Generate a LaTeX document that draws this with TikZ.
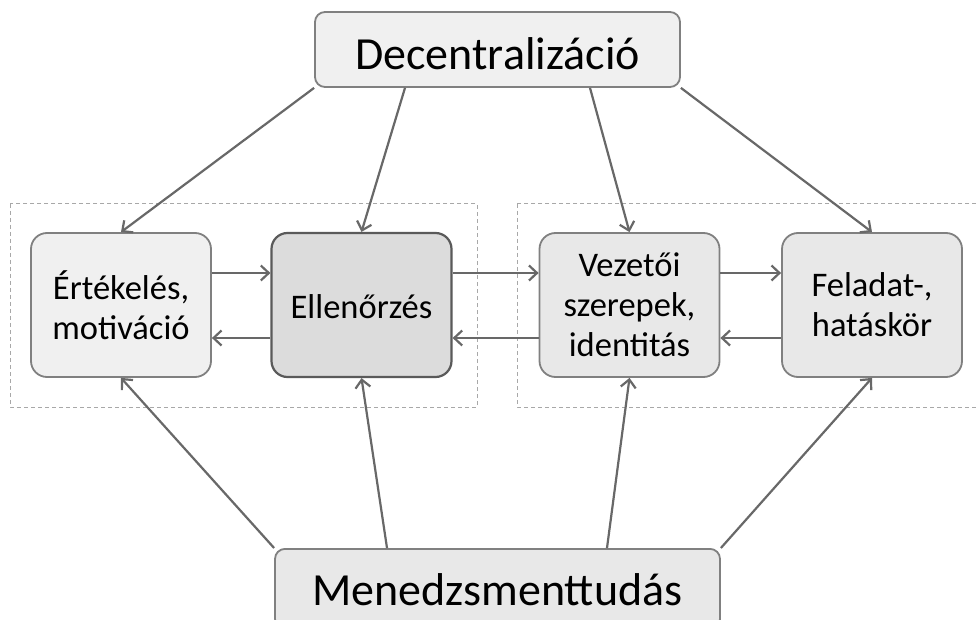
\documentclass[tikz,border=0pt]{standalone}
\usepackage{fontspec}
\setmainfont{Carlito}
\usetikzlibrary{arrows.meta,calc}
\definecolor{arrowgray}{HTML}{686868}
\definecolor{boxline}{HTML}{808080}
\definecolor{boxlinedark}{HTML}{5A5A5A}
\definecolor{fillA}{HTML}{F0F0F0}
\definecolor{fillB}{HTML}{DCDCDC}
\definecolor{fillC}{HTML}{E8E8E8}
\definecolor{dashgray}{HTML}{A8A8A8}
\tikzset{
  bigbox/.style={draw=boxline, line width=1.8pt, rounded corners=10pt, inner sep=0pt, align=center},
  smallbox/.style={draw=boxline, line width=1.8pt, rounded corners=16pt, minimum width=180pt, minimum height=144pt, inner sep=0pt, align=center, font=\fontsize{34.5}{40}\selectfont},
  group/.style={draw=dashgray, line width=1pt, dash pattern=on 4pt off 3pt},
  conn/.style={draw=arrowgray, line width=2.2pt, -{Straight Barb[length=8pt,width=15pt,line width=2.2pt]}}
}
\begin{document}
\begin{tikzpicture}[x=1pt,y=-1pt]
\useasboundingbox (0,0) rectangle (977,620);
\clip (0,0) rectangle (977,620);
\fill[white] (0,0) rectangle (977,620);

\draw[group] (10,204) rectangle (477,407);
\draw[group] (517,204) rectangle (995,407);

\node[bigbox, fill=fillA, minimum width=365pt, minimum height=75pt, font=\fontsize{46}{50}\selectfont, text height=41pt, text depth=0pt] (dec) at (497.5,49.5) {Decentralizáció};
\node[bigbox, fill=fillC, minimum width=445pt, minimum height=80pt, font=\fontsize{46}{50}\selectfont, text height=34pt, text depth=0pt, anchor=north] (men) at (497.5,548) {Menedzsmenttudás};

\node[smallbox, fill=fillA] (ert) at (121,305) {Értékelés,\\motiváció};
\node[smallbox, fill=fillB, draw=boxlinedark, line width=2.2pt, text height=28pt, text depth=0pt] (ell) at (361.5,305) {Ellenőrzés};
\node[smallbox, fill=fillC] (vez) at (629.5,305) {Vezetői\\szerepek,\\identitás};
\node[smallbox, fill=fillC] (fel) at (872,305) {Feladat-,\\hatáskör};

% from top
\draw[conn] (dec.south west) -- (ert.north);
\draw[conn] ([xshift=-92.5pt]dec.south) -- (ell.north);
\draw[conn] ([xshift=92.5pt]dec.south) -- (vez.north);
\draw[conn] (dec.south east) -- (fel.north);

% from bottom
\draw[conn] (men.north west) -- (ert.south);
\draw[conn] ([xshift=-110.5pt]men.north) -- (ell.south);
\draw[conn] ([xshift=109.5pt]men.north) -- (vez.south);
\draw[conn] (men.north east) -- (fel.south);

% horizontal
\draw[conn] ([yshift=32pt]ert.east) -- ([yshift=32pt]ell.west);
\draw[conn] ([yshift=-33pt]ell.west) -- ([yshift=-33pt]ert.east);
\draw[conn] ([yshift=32pt]ell.east) -- ([yshift=32pt]vez.west);
\draw[conn] ([yshift=-33pt]vez.west) -- ([yshift=-33pt]ell.east);
\draw[conn] ([yshift=32pt]vez.east) -- ([yshift=32pt]fel.west);
\draw[conn] ([yshift=-33pt]fel.west) -- ([yshift=-33pt]vez.east);
\end{tikzpicture}
\end{document}
